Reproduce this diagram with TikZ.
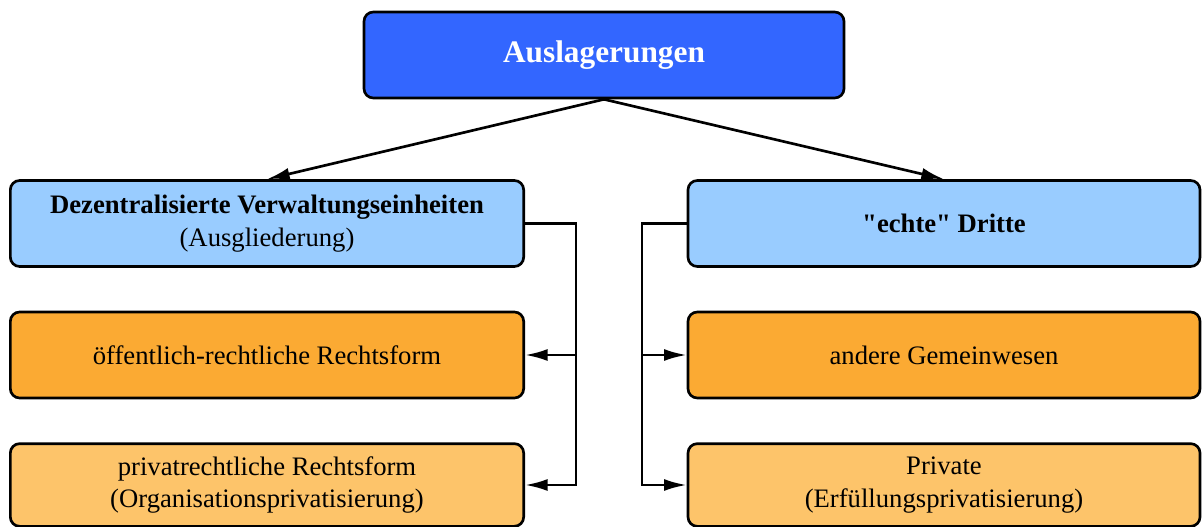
\documentclass[tikz,border=0pt]{standalone}
\usepackage{fontspec}
\setmainfont[Ligatures=TeXOff]{Liberation Serif}
\usepackage{tikz}
\usetikzlibrary{calc,positioning,arrows.meta}
\usepackage{xcolor}
\definecolor{topblue}{HTML}{3366FF}
\definecolor{lightblue}{HTML}{99CCFF}
\definecolor{orangebox}{HTML}{FBAA33}
\definecolor{lightorange}{HTML}{FDC46A}

\begin{document}
\begin{tikzpicture}[x=0.75pt, y=-0.75pt,
    box/.style={draw=black, line width=2pt, rounded corners=7pt, align=center,
        inner sep=0pt, minimum width=385pt, minimum height=64.5pt,
        font=\fontsize{20}{24.4}\selectfont},
    conn/.style={line width=2pt, -{Latex[length=17pt,width=9pt]}}]
            % Canvas
            \useasboundingbox (0,0) rectangle (1202,527);
            % Top box
            \node[box, fill=topblue, text=white, minimum width=360pt,
                font=\fontsize{23.5}{28}\selectfont\bfseries] (ausl) at (604,55) {Auslagerungen};
            % Left column
            \node[box, fill=lightblue] (dez) at (267,223.5)
                {\textbf{Dezentralisierte Verwaltungseinheiten}\\(Ausgliederung)};
            \node[box, fill=orangebox] (oer) at (267,355) {öffentlich-rechtliche Rechtsform};
            \node[box, fill=lightorange, minimum height=62pt] (prv) at (267,485)
                {privatrechtliche Rechtsform\\(Organisationsprivatisierung)};
            % Right column
            \node[box, fill=lightblue, minimum width=384pt] (dritte) at (944,223.5)
                {\textbf{"echte" Dritte}};
            \node[box, fill=orangebox, minimum width=384pt] (gem) at (944,355) {andere Gemeinwesen};
            \node[box, fill=lightorange, minimum width=384pt, minimum height=62pt] (priv) at (944,485)
                {Private\\(Erfüllungsprivatisierung)};

            % Arrows from the top box
            \draw[conn] (ausl.south) -- (dez.north);
            \draw[conn] (ausl.south) -- (dritte.north);

            % Left bracket
            \coordinate (lbus) at (576,223.5);
            \draw[conn] (dez.east) -- (lbus) |- (prv.east);
            \draw[conn] (lbus |- oer.east) -- (oer.east);
            % Right bracket
            \coordinate (rbus) at (642,223.5);
            \draw[conn] (dritte.west) -- (rbus) |- (priv.west);
            \draw[conn] (rbus |- gem.west) -- (gem.west);
\end{tikzpicture}
\end{document}
